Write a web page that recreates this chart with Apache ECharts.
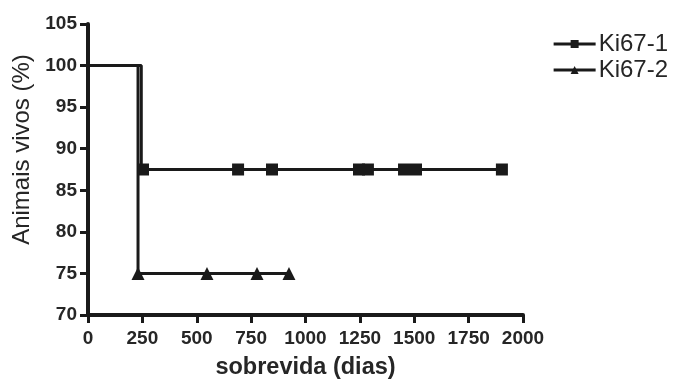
<!DOCTYPE html>
<html>
<head>
<meta charset="utf-8">
<script src="https://cdn.jsdelivr.net/npm/echarts@6/dist/echarts.min.js"></script>
<style>
  html, body { margin: 0; padding: 0; background: #fff; }
  #chart { width: 675px; height: 382px; }
</style>
</head>
<body>
<div id="chart"></div>
<script>
// curvas de sobrevida (Kaplan-Meier), dias x % vivos
var ki1Steps = [[0, 100], [245, 100], [245, 87.5]];
var ki1Censored = [253, 690, 846, 1246, 1287, 1453, 1508, 1903];
var ki1Level = 87.5;

var ki2Steps = [[0, 100], [230, 100]];
var ki2Censored = [230, 547, 777, 924];
var ki2Level = 75;

var xTicks = [0, 250, 500, 750, 1000, 1250, 1500, 1750, 2000];
var yTicks = [70, 75, 80, 85, 90, 95, 100, 105];

// pontos de degrau sem simbolo + pontos censurados com simbolo
function buildData(steps, censored, level) {
  var out = steps.map(function(p) {
    return { value: p, symbol: 'none' }
  })
  censored.forEach(function(d) {
    out.push({ value: [d, level] })
  })
  return out
}

var chart = echarts.init(document.getElementById('chart'))
var ink = '#1a1a1a'
var txt = '#262626'
var font = 'Arial, "Liberation Sans", Helvetica, sans-serif'

chart.setOption({
  animation: false,
  textStyle: { fontFamily: font },
  grid: { left: 88, right: 152, top: 24, bottom: 67, containLabel: false, outerBoundsMode: 'none' },
  legend: {
    right: 2,
    top: 27,
    orient: 'vertical',
    itemGap: 2,
    itemWidth: 42,
    itemHeight: 10,
    lineStyle: { width: 3 },
    textStyle: { fontSize: 24, color: txt, fontFamily: font, padding: [0, 0, 0, -2] },
    data: ['Ki67-1', 'Ki67-2']
  },
  xAxis: {
    type: 'value',
    min: xTicks[0],
    max: xTicks[xTicks.length - 1],
    interval: 250,
    name: 'sobrevida (dias)',
    nameLocation: 'middle',
    nameGap: 41,
    nameTextStyle: { fontSize: 23.5, fontWeight: 'bold', color: txt },
    axisLine: { lineStyle: { color: ink, width: 4 } },
    axisTick: { length: 8, lineStyle: { color: ink, width: 3 } },
    axisLabel: {
      fontSize: 19, fontWeight: 'bold', color: txt, margin: 14,
      formatter: function(v) { return String(v) }
    },
    splitLine: { show: false }
  },
  yAxis: {
    type: 'value',
    min: yTicks[0],
    max: yTicks[yTicks.length - 1],
    interval: 5,
    name: 'Animais vivos (%)',
    nameLocation: 'middle',
    nameGap: 54,
    nameTextStyle: { fontSize: 24, color: txt, padding: [0, 0, 0, 40] },
    axisLine: { lineStyle: { color: ink, width: 4 } },
    axisTick: { length: 8, lineStyle: { color: ink, width: 3 } },
    axisLabel: { fontSize: 19, fontWeight: 'bold', color: txt, margin: 11 },
    splitLine: { show: false }
  },
  series: [
    {
      name: 'Ki67-1',
      type: 'line',
      symbol: 'rect',
      symbolSize: 12,
      itemStyle: { color: ink },
      lineStyle: { color: ink, width: 3 },
      data: buildData(ki1Steps, ki1Censored, ki1Level)
    },
    {
      name: 'Ki67-2',
      type: 'line',
      symbol: 'triangle',
      symbolSize: 13,
      itemStyle: { color: ink },
      lineStyle: { color: ink, width: 3 },
      data: buildData(ki2Steps, ki2Censored, ki2Level)
    }
  ]
})
</script>
</body>
</html>
